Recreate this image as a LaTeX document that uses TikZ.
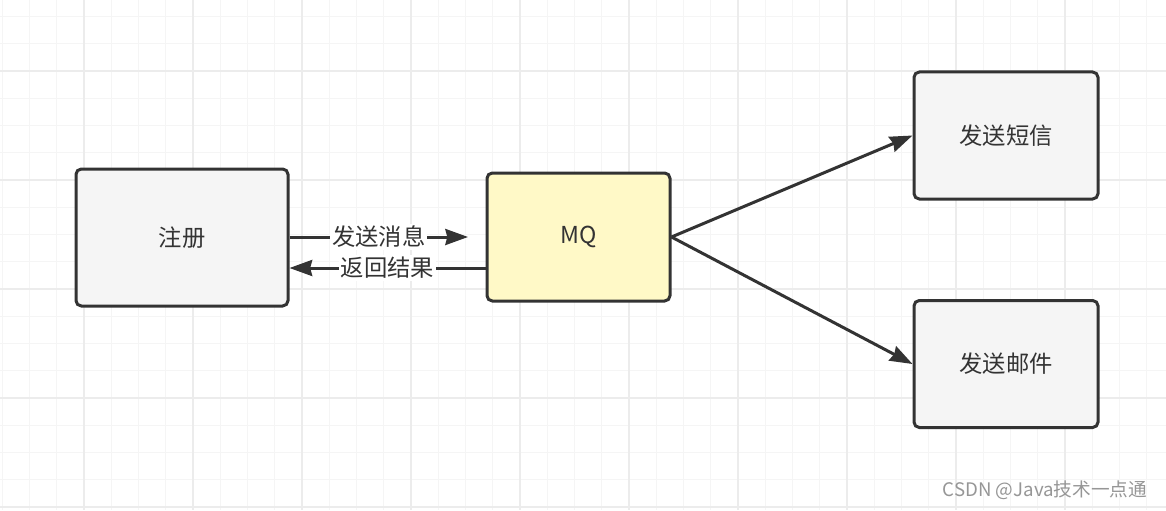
\documentclass[tikz,border=0pt]{standalone}
\usepackage{fontspec}
\setmainfont{Noto Sans CJK SC}
\usepackage{tikz}
\usetikzlibrary{arrows.meta, positioning, calc}
\definecolor{inkgray}{RGB}{51,51,51}
\definecolor{boxfill}{RGB}{245,245,245}
\definecolor{mqfill}{RGB}{255,249,199}
\definecolor{gridminor}{RGB}{245,245,245}
\definecolor{gridmajor}{RGB}{236,236,236}
\definecolor{markgray}{RGB}{150,150,150}
\tikzset{
  block/.style={rectangle, rounded corners=4pt, draw=inkgray, text=inkgray,
    line width=2.25pt, fill=boxfill, font=\fontsize{17.5pt}{20pt}\selectfont},
  regblock/.style={block, minimum width=159pt, minimum height=102.75pt},
  mqblock/.style={block, fill=mqfill, minimum width=137.25pt, minimum height=96pt},
  outblock/.style={block, minimum width=138pt, minimum height=95.25pt},
  arrow/.style={-{Stealth[length=17pt, width=12pt, inset=1.5pt]},
    line width=2.25pt, color=inkgray},
  msglabel/.style={fill=white, text=inkgray, inner sep=1.5pt,
    font=\fontsize{17.5pt}{20pt}\selectfont},
}

\begin{document}
\begin{tikzpicture}[x=0.75pt, y=-0.75pt]

  \useasboundingbox (0,0) rectangle (1166,510);
  \fill[white] (0,0) rectangle (1166,510);

  %% ── background grid ─────────────────────────────────────────
  \foreach \k in {0,...,42}
    \draw[gridminor, line width=1pt] ({2.25+27.25*\k},0) -- ({2.25+27.25*\k},510);
  \foreach \k in {0,...,18}
    \draw[gridminor, line width=1pt] (0,{16.5+27.25*\k}) -- (1166,{16.5+27.25*\k});
  \foreach \k in {0,...,10}
    \draw[gridmajor, line width=1pt] ({84+109*\k},0) -- ({84+109*\k},510);
  \foreach \k in {0,...,4}
    \draw[gridmajor, line width=1pt] (0,{71+109*\k}) -- (1166,{71+109*\k});

  %% ── boxes ───────────────────────────────────────────────────
  \node[regblock] (reg) at (182,237.5) {注册};
  \node[mqblock]  (mq)  at (578.5,237) {MQ};
  \node[outblock] (sms)  at (1006,135.5) {发送短信};
  \node[outblock] (mail) at (1006,364) {发送邮件};

  %% ── register <-> MQ ─────────────────────────────────────────
  \coordinate (sendend) at (468,237);
  \coordinate (backy) at (0,268);
  \draw[arrow] (reg.east |- sendend) -- node[msglabel] {发送消息} (sendend);
  \draw[arrow] (mq.west |- backy) -- node[msglabel] {返回结果} (reg.east |- backy);

  %% ── MQ fan-out ──────────────────────────────────────────────
  \draw[arrow] (mq.east) -- (sms.west);
  \draw[arrow] (mq.east) -- (mail.west);

  % watermark
  \node[anchor=east, text=markgray, font=\fontsize{14pt}{16pt}\selectfont]
    (mark) at (1152,490) {CSDN @Java技术一点通};

\end{tikzpicture}
\end{document}
